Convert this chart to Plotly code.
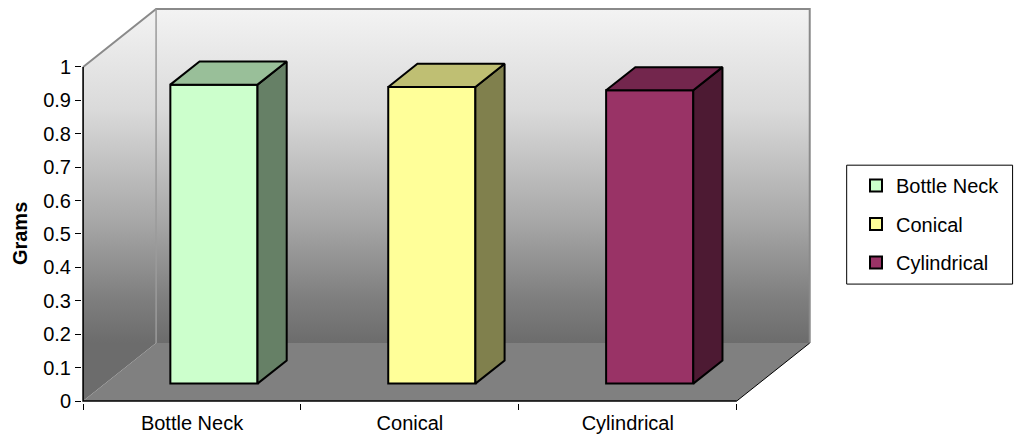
import plotly.graph_objects as go

# ---- data -------------------------------------------------------------
categories = ["Bottle Neck", "Conical", "Cylindrical"]
grams = [0.895, 0.888, 0.878]
front_colors = ["#CCFFCC", "#FFFF99", "#993366"]
top_colors = ["#99BF99", "#BFBF73", "#73264D"]
side_colors = ["#668066", "#80804D", "#4D1A33"]
y_ticks = [0, 0.1, 0.2, 0.3, 0.4, 0.5, 0.6, 0.7, 0.8, 0.9, 1]

# ---- oblique 3-D projection (depth expressed in axis units) -----------
DX, DY = 0.335, 0.1735        # full depth of the box
FRONT, BAR_DEPTH = 0.30, 0.40  # bar position / thickness along the depth
BAR_W = 0.40
X_LO, X_HI = -0.5, len(categories) - 0.5
Y_TOP = 1.0


def proj(x, y, t):
    return x + t * DX, y + t * DY


def poly(points, **kw):
    xs = [p[0] for p in points] + [points[0][0]]
    ys = [p[1] for p in points] + [points[0][1]]
    return go.Scatter(x=xs, y=ys, mode="lines", fill="toself",
                      hoverinfo="skip", showlegend=False, **kw)


def seg(points, color, width, **kw):
    return go.Scatter(x=[p[0] for p in points], y=[p[1] for p in points],
                      mode="lines", line=dict(color=color, width=width),
                      hoverinfo="skip", showlegend=False, **kw)


wall_scale = [[0.0, "#6c6c6c"], [0.13, "#7e7e7e"], [0.37, "#a8a8a8"],
              [0.70, "#dadada"], [1.0, "#f3f3f3"]]
grad = dict(type="vertical", colorscale=wall_scale, start=DY, stop=Y_TOP + DY)

fig = go.Figure()

# back wall
fig.add_trace(poly([proj(X_LO, 0, 1), proj(X_HI, 0, 1), proj(X_HI, Y_TOP, 1),
                    proj(X_LO, Y_TOP, 1)],
                   line=dict(width=0), fillgradient=grad))
# left wall
fig.add_trace(poly([proj(X_LO, 0, 0), proj(X_LO, 0, 1), proj(X_LO, Y_TOP, 1),
                    proj(X_LO, Y_TOP, 0)],
                   line=dict(width=0), fillgradient=grad))
# floor
fig.add_trace(poly([proj(X_LO, 0, 0), proj(X_HI, 0, 0), proj(X_HI, 0, 1),
                    proj(X_LO, 0, 1)],
                   line=dict(width=0), fillcolor="#808080"))
# wall edges
fig.add_trace(seg([proj(X_LO, Y_TOP, 0), proj(X_LO, Y_TOP, 1),
                   proj(X_HI, Y_TOP, 1), proj(X_HI, 0, 1)], "#8a8a8a", 2))
fig.add_trace(seg([proj(X_LO, Y_TOP, 1), proj(X_LO, 0, 1)], "#9a9a9a", 1.5))
fig.add_trace(seg([proj(X_HI, 0, 0), proj(X_HI, 0, 1)], "#000000", 1))

# ---- columns (drawn on the overlaid subplot so they sit above the walls)
for i, (name, v) in enumerate(zip(categories, grams)):
    cx, base = proj(i, 0, FRONT)
    xl, xr = cx - BAR_W / 2, cx + BAR_W / 2
    yt = base + v
    bdx, bdy = BAR_DEPTH * DX, BAR_DEPTH * DY
    fig.add_trace(go.Bar(
        x=[cx], y=[v], base=base, width=BAR_W, name=name,
        legendgroup=name,
        marker=dict(color=front_colors[i], line=dict(color="black", width=2)),
        hoverinfo="skip", xaxis="x2", yaxis="y2"))
    # right side face
    fig.add_trace(poly([(xr, base), (xr + bdx, base + bdy), (xr + bdx, yt + bdy),
                        (xr, yt)],
                       line=dict(color="black", width=2),
                       fillcolor=side_colors[i], xaxis="x2", yaxis="y2"))
    # top face
    fig.add_trace(poly([(xl, yt), (xr, yt), (xr + bdx, yt + bdy),
                        (xl + bdx, yt + bdy)],
                       line=dict(color="black", width=2),
                       fillcolor=top_colors[i], xaxis="x2", yaxis="y2"))

# axis lines along the front plane
fig.add_trace(seg([(X_LO, Y_TOP), (X_LO, 0), (X_HI, 0)], "#000000", 1.6,
                  xaxis="x2", yaxis="y2"))

# ---- layout geometry --------------------------------------------------
W, H = 1015, 439
SX, SY = 218.0, 334.3           # pixels per axis unit
X0PX, Y0PX = 83.0, 401.0        # pixel of (X_LO, 0)
xr_ = [X_LO - 0.005, X_HI + DX + 0.015]
yr_ = [-0.006, Y_TOP + DY + 0.012]
ml = X0PX - (X_LO - xr_[0]) * SX
pw = (xr_[1] - xr_[0]) * SX
mr = W - ml - pw
mb = H - (Y0PX - yr_[0] * SY)
ph = (yr_[1] - yr_[0]) * SY
mt = H - mb - ph


def px_x(px):
    return (px - ml) / pw


def px_y(py):
    return (H - mb - py) / ph


FONT = "Arial, Liberation Sans, sans-serif"
fs = 20

fig.update_layout(
    width=W, height=H,
    margin=dict(l=ml, r=mr, t=mt, b=mb, pad=0, autoexpand=False),
    paper_bgcolor="white", plot_bgcolor="rgba(0,0,0,0)",
    barmode="overlay",
    font=dict(family=FONT, size=fs, color="black"),
    xaxis=dict(range=xr_, tickvals=list(range(len(categories))),
               ticktext=categories, ticks="outside", ticklen=2,
               tickcolor="rgba(0,0,0,0)", showgrid=False, zeroline=False,
               showline=False, fixedrange=True, automargin=False,
               tickfont=dict(family=FONT, size=fs, color="black")),
    xaxis2=dict(range=xr_, overlaying="x", side="bottom", anchor="y2",
                tickvals=[k - 0.5 for k in range(len(categories) + 1)],
                ticks="outside", ticklen=6, tickwidth=1.3, tickcolor="black",
                showticklabels=False, showgrid=False, zeroline=False,
                showline=False, automargin=False),
    yaxis=dict(range=yr_, tickvals=y_ticks, ticktext=[f"{t:g}" for t in y_ticks],
               ticks="outside", ticklen=6, tickwidth=1.3, tickcolor="black",
               showgrid=False, zeroline=False, showline=False,
               ticklabelstandoff=0, automargin=False,
               tickfont=dict(family=FONT, size=fs, color="black")),
    yaxis2=dict(range=yr_, overlaying="y", visible=False, automargin=False),
    legend=dict(xref="container", yref="container",
                x=856 / W, y=1 - 166 / H, xanchor="left", yanchor="top",
                borderwidth=0, bgcolor="rgba(0,0,0,0)",
                traceorder="grouped", tracegroupgap=9.5,
                font=dict(family=FONT, size=fs, color="black")),
    showlegend=True,
    shapes=[dict(type="rect", xref="paper", yref="paper",
                 x0=px_x(847), x1=px_x(1013), y0=px_y(284), y1=px_y(165),
                 line=dict(color="black", width=1), fillcolor="rgba(0,0,0,0)",
                 layer="above")],
    annotations=[dict(text="<b>Grams</b>", textangle=-90,
                      xref="paper", yref="y", x=px_x(20), y=0.5,
                      xanchor="center", yanchor="middle", showarrow=False,
                      font=dict(family=FONT, size=fs, color="black"))],
)

fig.write_html("out.html")
